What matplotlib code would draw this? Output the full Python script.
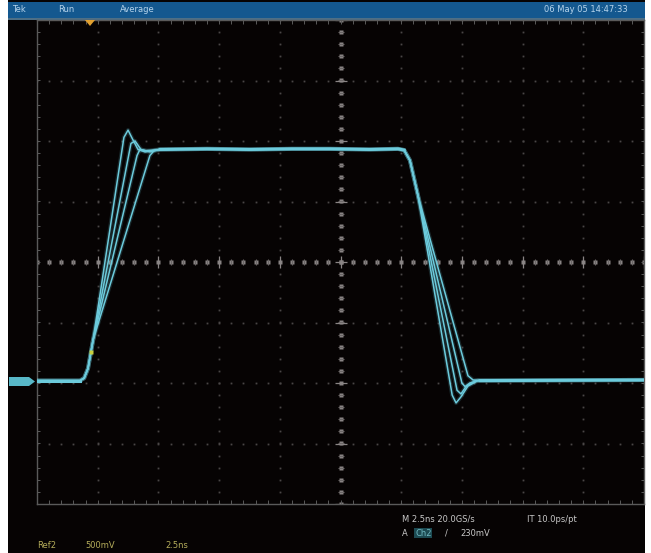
import numpy as np
import matplotlib
matplotlib.use("Agg")
import matplotlib.pyplot as plt
from matplotlib.patches import Rectangle, Polygon

# ---------------- data (time in ns, voltage in V) ----------------
baseline_v = -0.98
rise_common_t = [-12.5, -10.73, -10.56, -10.40, -10.19]
rise_common_v = [-0.98, -0.98, -0.96, -0.88, -0.645]

rise_t = [
    [-8.92, -8.75, -8.55, -8.34, -8.05, -7.43],
    [-8.63, -8.46, -8.22, -7.85, -7.43],
    [-8.38, -8.26, -8.01, -7.43],
    [-7.85, -7.68, -7.43],
]
rise_v = [
    [1.03, 1.09, 1.01, 0.93, 0.91, 0.93],
    [0.98, 1.00, 0.93, 0.91, 0.93],
    [0.88, 0.93, 0.92, 0.93],
    [0.88, 0.92, 0.93],
]

top_t = [-7.43, -5.5, -3.73, -2.0, -0.43, 1.2, 2.37, 2.62, 2.86, 3.19]
top_v = [0.93, 0.935, 0.93, 0.935, 0.935, 0.93, 0.935, 0.925, 0.84, 0.55]

fall_t = [
    [4.60, 4.76, 4.96, 5.25, 5.66, 12.5],
    [4.80, 4.96, 5.17, 5.58, 12.5],
    [5.00, 5.13, 5.33, 5.66, 12.5],
    [5.25, 5.46, 5.75, 12.5],
]
fall_v = [
    [-1.10, -1.165, -1.115, -1.025, -0.98, -0.975],
    [-1.06, -1.09, -1.03, -0.98, -0.975],
    [-1.00, -1.03, -1.00, -0.98, -0.975],
    [-0.94, -0.975, -0.98, -0.975],
]

trigger_t, trigger_v = -10.28, -0.74

header_texts = ["Tek", "Run", "Average"]
date_text = "06 May 05 14:47:33"
ref_texts = ["Ref2", "500mV", "2.5ns"]
meas_line1 = ["M 2.5ns 20.0GS/s", "IT 10.0ps/pt"]
meas_line2 = ["A", "Ch2", "/", "230mV"]

# ---------------- layout ----------------
W, H = 651, 553
fig = plt.figure(figsize=(W / 100, H / 100), dpi=100)
fig.patch.set_facecolor("white")

def fx(x):
    return x / W

def fy(y):
    return 1 - y / H

# screen background
fig.patches.append(Rectangle((fx(8), 0), fx(645) - fx(8), 1, transform=fig.transFigure,
                             facecolor="#060303", edgecolor="none", zorder=-10))
# header bar
fig.patches.append(Rectangle((fx(8), fy(18)), fx(645) - fx(8), fy(2) - fy(18),
                             transform=fig.transFigure, facecolor="#14588f",
                             edgecolor="none", zorder=-9))
fig.patches.append(Rectangle((fx(8), fy(19.5)), fx(645) - fx(8), fy(18) - fy(19.5),
                             transform=fig.transFigure, facecolor="#4d6f86",
                             edgecolor="none", zorder=-9))

gx0, gx1, gy0, gy1 = 37, 644, 20, 504
ax = fig.add_axes([fx(gx0), fy(gy1), fx(gx1) - fx(gx0), fy(gy0) - fy(gy1)])
ax.set_zorder(1)
ax.set_facecolor("none")
ax.set_xlim(-12.5, 12.5)
ax.set_ylim(-2.0, 2.0)
ax.set_xticks([])
ax.set_yticks([])
for s in ax.spines.values():
    s.set_color("#5a5a5a")
    s.set_linewidth(1.0)

# graticule: dotted division lines
xdiv = np.arange(-12.5, 12.51, 2.5)
ydiv = np.arange(-2.0, 2.01, 0.5)
xminor = np.arange(-12.5, 12.51, 0.5)
yminor = np.arange(-2.0, 2.01, 0.1)
dotc = "#4a4646"
for xv in xdiv[1:-1]:
    if abs(xv) < 1e-9:
        continue
    ax.plot(np.full_like(yminor, xv), yminor, ls="none", marker="s", ms=1.3,
            mec="none", mfc=dotc, zorder=1)
for yv in ydiv[1:-1]:
    if abs(yv) < 1e-9:
        continue
    ax.plot(xminor, np.full_like(xminor, yv), ls="none", marker="s", ms=1.3,
            mec="none", mfc=dotc, zorder=1)
# centre cross with ticks
cc = "#8a8585"
ax.plot(xminor, np.zeros_like(xminor), ls="none", marker="s", ms=2.2, mec="none",
        mfc=cc, zorder=1)
ax.plot(xminor, np.zeros_like(xminor), ls="none", marker="|", ms=5, mew=0.8,
        mec="#6a6666", zorder=1)
ax.plot(np.zeros_like(yminor), yminor, ls="none", marker="s", ms=2.2, mec="none",
        mfc=cc, zorder=1)
ax.plot(np.zeros_like(yminor), yminor, ls="none", marker="_", ms=5, mew=0.8,
        mec="#6a6666", zorder=1)
ax.plot(xdiv, np.zeros_like(xdiv), ls="none", marker="|", ms=8, mew=0.9, mec=cc, zorder=1)
ax.plot(np.zeros_like(ydiv), ydiv, ls="none", marker="_", ms=8, mew=0.9, mec=cc, zorder=1)
# border ticks (inside)
ax.plot(xminor, np.full_like(xminor, -1.985), ls="none", marker="|", ms=3, mew=0.7,
        mec="#5a5a5a", zorder=1)
ax.plot(xminor, np.full_like(xminor, 1.985), ls="none", marker="|", ms=3, mew=0.7,
        mec="#5a5a5a", zorder=1)
ax.plot(np.full_like(yminor, 12.45), yminor, ls="none", marker="_", ms=3, mew=0.7,
        mec="#5a5a5a", zorder=1)
ax.plot(np.full_like(yminor, -12.45), yminor, ls="none", marker="_", ms=3, mew=0.7,
        mec="#5a5a5a", zorder=1)

# ---------------- traces ----------------
trace_c = "#6ccbdc"
for k in range(4):
    t = rise_common_t + rise_t[k] + top_t + fall_t[k]
    v = rise_common_v + rise_v[k] + top_v + fall_v[k]
    ax.plot(t, v, color=trace_c, lw=3.0, alpha=0.18, zorder=3,
            solid_joinstyle="round", solid_capstyle="round")
    ax.plot(t, v, color=trace_c, lw=1.1, zorder=4,
            solid_joinstyle="round", solid_capstyle="round")
# thicker flat portions (overlapping traces)
ax.plot(top_t[:-2], top_v[:-2], color=trace_c, lw=2.2, zorder=4)
ax.plot([5.75, 12.5], [-0.98, -0.975], color=trace_c, lw=2.2, zorder=4)
ax.plot([-12.5, -10.73], [-0.98, -0.98], color=trace_c, lw=2.2, zorder=4)

ax.plot([trigger_t], [trigger_v], ls="none", marker="s", ms=3.5, mfc="#c8d040",
        mec="none", zorder=5)

# trigger position marker (top) and channel marker (left)
fig.patches.append(Polygon([[fx(85), fy(20)], [fx(95), fy(20)], [fx(90), fy(26)]],
                           closed=True, transform=fig.transFigure,
                           facecolor="#e0a030", edgecolor="none", zorder=6))
fig.patches.append(Polygon([[fx(9), fy(377)], [fx(29), fy(377)], [fx(35), fy(381.5)],
                            [fx(29), fy(386)], [fx(9), fy(386)]],
                           closed=True, transform=fig.transFigure,
                           facecolor="#58b8c8", edgecolor="none", zorder=6))

# ---------------- texts ----------------
hc = "#b6d4ec"
for xp, s in zip([12, 58, 120], header_texts):
    fig.text(fx(xp), fy(10), s, color=hc, fontsize=6, va="center", ha="left")
fig.text(fx(628), fy(10), date_text, color=hc, fontsize=6, va="center", ha="right")

rc = "#b4ac5a"
for xp, s in zip([37, 85, 165], ref_texts):
    fig.text(fx(xp), fy(545), s, color=rc, fontsize=6, va="center", ha="left")

mc = "#c8c8c8"
fig.text(fx(402), fy(519), meas_line1[0], color=mc, fontsize=6, va="center", ha="left")
fig.text(fx(527), fy(519), meas_line1[1], color=mc, fontsize=6, va="center", ha="left")
fig.text(fx(402), fy(533), meas_line2[0], color=mc, fontsize=6, va="center", ha="left")
fig.text(fx(415), fy(533), meas_line2[1], color="#70b8c0", fontsize=6, va="center", ha="left",
         bbox=dict(boxstyle="square,pad=0.1", fc="#1c4a52", ec="none"))
fig.text(fx(445), fy(533), meas_line2[2], color=mc, fontsize=6, va="center", ha="left")
fig.text(fx(460), fy(533), meas_line2[3], color=mc, fontsize=6, va="center", ha="left")

fig.savefig("out.png", dpi=100, facecolor=fig.get_facecolor())
